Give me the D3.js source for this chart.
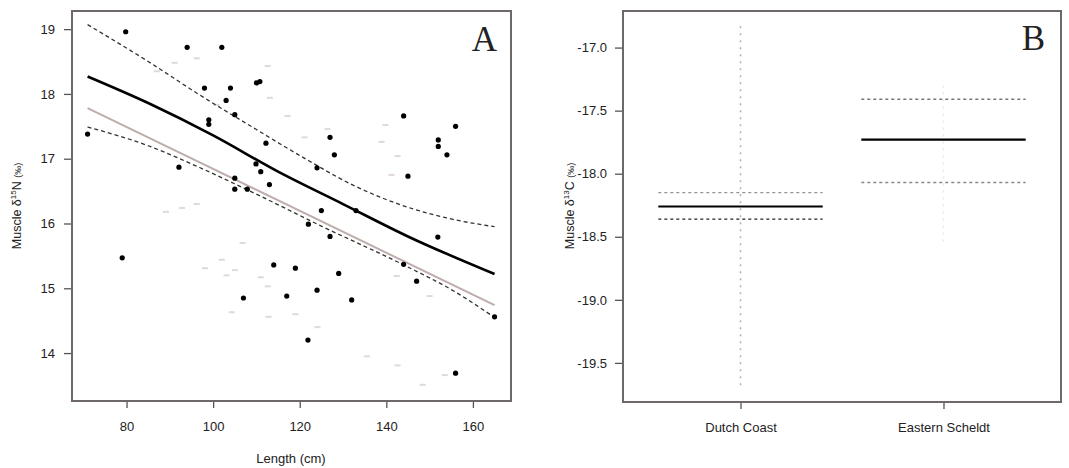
<!DOCTYPE html>
<html><head><meta charset="utf-8">
<script src="https://cdn.jsdelivr.net/npm/d3@7"></script>
<style>body{margin:0;background:#fff}svg text{font-family:"Liberation Sans",Arial,sans-serif}</style>
</head><body><svg id="c" width="1069" height="468"></svg>
<script>
// ---------- Panel A data ----------
const blackPoints = [[71,17.38],[79.8,18.96],[94,18.72],[102,18.72],[98,18.09],[104,18.09],[103,17.9],[99,17.6],[99,17.53],[105,17.68],[110,18.17],[110.8,18.19],[112.2,17.24],[109.9,16.92],[111,16.8],[92.1,16.87],[105,16.7],[105,16.53],[107.9,16.53],[144,17.66],[156,17.5],[152,17.29],[152,17.19],[154,17.06],[145,16.73],[127,17.33],[128,17.06],[124,16.86],[113,16.6],[125,16.2],[133,16.2],[122,15.99],[127,15.8],[151.9,15.79],[144,15.37],[147,15.11],[114,15.36],[119,15.31],[129,15.23],[117,14.88],[124,14.97],[132,14.82],[121.9,14.2],[156,13.69],[165,14.56],[79,15.47],[107,14.85]];
const greyPoints = [[87,18.35],[91.1,18.48],[96.2,18.55],[100.8,17.83],[112.6,18.43],[113.1,17.94],[117.2,17.66],[121.1,17.33],[126.4,17.46],[138.9,17.26],[139.8,17.52],[142.6,17.04],[141.2,16.75],[89.1,16.18],[92.8,16.24],[96.2,16.3],[106.8,15.7],[98.1,15.31],[102,15.44],[105,15.28],[103.1,15.2],[111,15.17],[112.6,15.03],[104.3,14.63],[112.8,14.56],[119,14.6],[124.1,14.4],[142.4,15.19],[150,14.88],[153.5,13.66],[135.5,13.95],[142.6,13.81],[148.4,13.51]];
const fitLine  = [[71,18.27],[85,17.86],[100,17.36],[115,16.8],[130,16.3],[145,15.8],[165,15.22]];
const fitUpper = [[71,19.07],[85,18.5],[97,17.98],[110,17.45],[120,17.05],[133,16.57],[145,16.25],[155,16.07],[165,15.95]];
const fitLower = [[71,17.49],[85,17.2],[97,16.86],[111,16.42],[125,15.96],[144,15.36],[155,14.98],[165,14.55]];
const greyFit  = [[71,17.78],[165,14.74]];
const xTicksA = [80,100,120,140,160];
const yTicksA = [14,15,16,17,18,19];

// ---------- Panel B data ----------
const sites = ["Dutch Coast","Eastern Scheldt"];
const siteMean  = [-18.26,-17.73];
const siteUpper = [-18.15,-17.41];
const siteLower = [-18.36,-18.07];
const siteMax   = [-16.83,-17.30];
const siteMin   = [-19.68,-18.55];
const yTicksB = [-17.0,-17.5,-18.0,-18.5,-19.0,-19.5];

const svg = d3.select("#c");
const frame = "#6e6868";

// ===== Panel A =====
const xA = d3.scaleLinear().domain([67.4,168.8]).range([72,511]);
const yA = d3.scaleLinear().domain([13.26,19.28]).range([401,11]);
const gA = svg.append("g");

function styleAxis(g){
  g.select(".domain").remove();
  g.selectAll(".tick line").attr("stroke","#555").attr("stroke-width",1.3);
  g.selectAll(".tick text").attr("fill","#222").style("font-size","13px");
}
gA.append("g").attr("transform","translate(0,401)")
  .call(d3.axisBottom(xA).tickValues(xTicksA).tickFormat(d3.format("d")).tickSize(7).tickPadding(14))
  .call(styleAxis);
gA.append("g").attr("transform","translate(72,0)")
  .call(d3.axisLeft(yA).tickValues(yTicksA).tickFormat(d3.format("d")).tickSize(8).tickPadding(9))
  .call(styleAxis);

gA.selectAll("line.gp").data(greyPoints).join("line")
  .attr("x1",d=>xA(d[0])-3).attr("x2",d=>xA(d[0])+3)
  .attr("y1",d=>yA(d[1])).attr("y2",d=>yA(d[1]))
  .attr("stroke","#e2d9d7").attr("stroke-width",2);

const lineA = d3.line().x(d=>xA(d[0])).y(d=>yA(d[1])).curve(d3.curveMonotoneX);
gA.append("path").attr("d",lineA(greyFit)).attr("fill","none").attr("stroke","#bcaeaa").attr("stroke-width",2);
gA.append("path").attr("d",lineA(fitUpper)).attr("fill","none").attr("stroke","#333").attr("stroke-width",1.3).attr("stroke-dasharray","4,3");
gA.append("path").attr("d",lineA(fitLower)).attr("fill","none").attr("stroke","#333").attr("stroke-width",1.3).attr("stroke-dasharray","4,3");
gA.append("path").attr("d",lineA(fitLine)).attr("fill","none").attr("stroke","#000").attr("stroke-width",2.6);

gA.selectAll("circle.bp").data(blackPoints).join("circle")
  .attr("cx",d=>xA(d[0])).attr("cy",d=>yA(d[1])).attr("r",2.6).attr("fill","#000");

gA.append("rect").attr("x",72).attr("y",11).attr("width",439).attr("height",390)
  .attr("fill","none").attr("stroke",frame).attr("stroke-width",2);
gA.append("text").attr("x",497).attr("y",51).attr("text-anchor","end")
  .style("font-family","'Liberation Serif','DejaVu Serif',serif").style("font-size","35px").attr("fill","#222").text("A");
gA.append("text").attr("x",291).attr("y",463).attr("text-anchor","middle").style("font-size","13px").attr("fill","#222").text("Length (cm)");
const lblA = gA.append("text").attr("transform","translate(21,206) rotate(-90)").attr("text-anchor","middle").style("font-size","12.5px").attr("fill","#222");
lblA.append("tspan").text("Muscle δ");
lblA.append("tspan").attr("dy","-5").style("font-size","8px").text("15");
lblA.append("tspan").attr("dy","5").text("N ");
lblA.append("tspan").style("font-size","9px").text("(‰)");

// ===== Panel B =====
const xB = d3.scalePoint().domain(sites).range([623,1061]).padding(0.579);
const yB = d3.scaleLinear().domain([-19.81,-16.71]).range([402,11]);
const gB = svg.append("g");
gB.append("g").attr("transform","translate(0,402)")
  .call(d3.axisBottom(xB).tickSize(7).tickPadding(14))
  .call(styleAxis);
gB.append("g").attr("transform","translate(623,0)")
  .call(d3.axisLeft(yB).tickValues(yTicksB).tickFormat(d3.format(".1f")).tickSize(8).tickPadding(8))
  .call(styleAxis);
gB.selectAll(".tick text").text(function(){return this.textContent.replace("−","-");});

const half = xB.step()*0.405;
sites.forEach((s,i)=>{
  const cx = xB(s);
  gB.append("line").attr("x1",cx).attr("x2",cx).attr("y1",yB(siteMax[i])).attr("y2",yB(siteMin[i]))
    .attr("stroke", i===0 ? "#b8acaa" : "#ebe5e3").attr("stroke-width",1.5).attr("stroke-dasharray","2,5");
  gB.append("line").attr("x1",cx-half).attr("x2",cx+half).attr("y1",yB(siteUpper[i])).attr("y2",yB(siteUpper[i]))
    .attr("stroke", i===0 ? "#9a9292" : "#777").attr("stroke-width",1.4).attr("stroke-dasharray","3,3");
  gB.append("line").attr("x1",cx-half).attr("x2",cx+half).attr("y1",yB(siteLower[i])).attr("y2",yB(siteLower[i]))
    .attr("stroke", i===0 ? "#222" : "#888").attr("stroke-width",1.4).attr("stroke-dasharray","3,3");
  gB.append("line").attr("x1",cx-half).attr("x2",cx+half).attr("y1",yB(siteMean[i])).attr("y2",yB(siteMean[i]))
    .attr("stroke","#000").attr("stroke-width",2.2);
});

gB.append("rect").attr("x",623).attr("y",11).attr("width",438).attr("height",391)
  .attr("fill","none").attr("stroke",frame).attr("stroke-width",2);
gB.append("text").attr("x",1045).attr("y",50).attr("text-anchor","end")
  .style("font-family","'Liberation Serif','DejaVu Serif',serif").style("font-size","35px").attr("fill","#222").text("B");
const lblB = gB.append("text").attr("transform","translate(574,206) rotate(-90)").attr("text-anchor","middle").style("font-size","12.5px").attr("fill","#222");
lblB.append("tspan").text("Muscle δ");
lblB.append("tspan").attr("dy","-5").style("font-size","8px").text("13");
lblB.append("tspan").attr("dy","5").text("C ");
lblB.append("tspan").style("font-size","9px").text("(‰)");
</script>
</body></html>
